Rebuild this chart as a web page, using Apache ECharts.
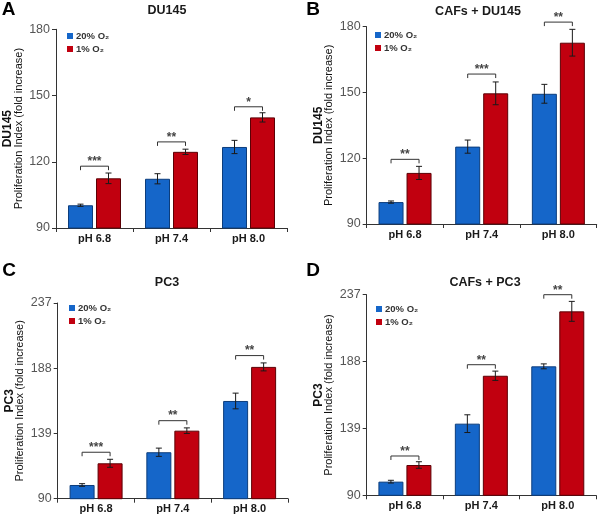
<!DOCTYPE html>
<html>
<head>
<meta charset="utf-8">
<script src="https://cdn.jsdelivr.net/npm/echarts@6/dist/echarts.min.js"></script>
<style>html,body{margin:0;padding:0;background:#fff}#c{width:600px;height:518px}</style>
</head>
<body>
<div id="c"></div>
<script>
// ---------- data ----------
const categories = ['pH 6.8', 'pH 7.4', 'pH 8.0'];
const legendNames = ['20% O\u2082', '1% O\u2082'];
const duTicks = [90, 120, 150, 180];
const pcTicks = [90, 139, 188, 237];

// A: DU145
const aBlue = [100.3, 112.3, 126.7];
const aBlueErr = [0.5, 2.3, 3.0];
const aRed = [112.5, 124.5, 140.1];
const aRedErr = [2.4, 1.2, 2.1];
const aBracket = [118, 129, 144.9];
const aStars = ['***', '**', '*'];

// B: CAFs + DU145
const bBlue = [100.0, 125.3, 149.4];
const bBlueErr = [0.5, 3.0, 4.3];
const bRed = [113.3, 149.6, 172.7];
const bRedErr = [3.0, 5.2, 6.1];
const bBracket = [119.5, 158.4, 182.1];
const bStars = ['**', '***', '**'];

// C: PC3
const cBlue = [100.3, 124.9, 163.4];
const cBlueErr = [1.0, 3.1, 5.9];
const cRed = [116.6, 141.1, 189.0];
const cRedErr = [3.0, 2.1, 3.0];
const cBracket = [124.9, 148.6, 197.5];
const cStars = ['***', '**', '**'];

// D: CAFs + PC3
const dBlue = [100.0, 142.5, 184.5];
const dBlueErr = [1.0, 6.5, 1.8];
const dRed = [112.2, 177.6, 224.8];
const dRedErr = [2.4, 3.4, 7.3];
const dBracket = [118.8, 185.7, 237];
const dStars = ['**', '**', '**'];

// ---------- layout / style ----------
const FONT = '"Liberation Sans", Arial, sans-serif';
const BLUE = '#1566c9', BLUE_B = '#0c3d7c';
const RED = '#c1000f', RED_B = '#5c0005';
const BAR_W = 25, OFF = 14;

const panels = [
  {grid: {left: 56, top: 29.3, width: 231, height: 198.7}, ticks: duTicks, yName: 'DU145',
   blue: aBlue, blueErr: aBlueErr, red: aRed, redErr: aRedErr, bracket: aBracket, stars: aStars,
   title: 'DU145', tx: 167, ty: 11, letter: 'A', lx: 8.5, ly: 10, legL: 67, legT: 31},
  {grid: {left: 366.7, top: 26.7, width: 230, height: 197.3}, ticks: duTicks, yName: 'DU145',
   blue: bBlue, blueErr: bBlueErr, red: bRed, redErr: bRedErr, bracket: bBracket, stars: bStars,
   title: 'CAFs + DU145', tx: 478, ty: 12, letter: 'B', lx: 313, ly: 10, legL: 375, legT: 30},
  {grid: {left: 57.7, top: 303, width: 230.3, height: 195.7}, ticks: pcTicks, yName: 'PC3',
   blue: cBlue, blueErr: cBlueErr, red: cRed, redErr: cRedErr, bracket: cBracket, stars: cStars,
   title: 'PC3', tx: 167, ty: 283, letter: 'C', lx: 9, ly: 271, legL: 69, legT: 303},
  {grid: {left: 366.7, top: 294.7, width: 229.3, height: 200.6}, ticks: pcTicks, yName: 'PC3',
   blue: dBlue, blueErr: dBlueErr, red: dRed, redErr: dRedErr, bracket: dBracket, stars: dStars,
   title: 'CAFs + PC3', tx: 485, ty: 283, letter: 'D', lx: 313, ly: 271, legL: 376, legT: 304}
];

const grids = [], xAxes = [], yAxes = [], series = [], legends = [], graphics = [];

function errSeries(i, vals, errs, off) {
  return {
    type: 'custom', xAxisIndex: i, yAxisIndex: i, clip: false, z: 5,
    encode: {x: 0, y: 1},
    data: vals.map((v, k) => [k, v, errs[k]]),
    renderItem: function (params, api) {
      const k = api.value(0), v = api.value(1), e = api.value(2);
      const t = api.coord([k, v + e]), b = api.coord([k, v - e]);
      const x = t[0] + off;
      const st = {stroke: '#1a1a1a', lineWidth: 1};
      return {type: 'group', children: [
        {type: 'line', shape: {x1: x, y1: t[1], x2: x, y2: b[1]}, style: st},
        {type: 'line', shape: {x1: x - 3, y1: t[1], x2: x + 3, y2: t[1]}, style: st},
        {type: 'line', shape: {x1: x - 3, y1: b[1], x2: x + 3, y2: b[1]}, style: st}
      ]};
    }
  };
}

function bracketSeries(i, vals, stars) {
  return {
    type: 'custom', xAxisIndex: i, yAxisIndex: i, clip: false, z: 6,
    encode: {x: 0, y: 1},
    data: vals.map((v, k) => [k, v]),
    renderItem: function (params, api) {
      const k = api.value(0), v = api.value(1);
      const c = api.coord([k, v]);
      const x1 = c[0] - OFF, x2 = c[0] + OFF, y = c[1];
      return {type: 'group', children: [
        {type: 'polyline', shape: {points: [[x1, y + 4], [x1, y], [x2, y], [x2, y + 4]]},
         style: {stroke: '#333', lineWidth: 1, fill: null}},
        {type: 'text', x: c[0], y: y - 4.5,
         style: {text: stars[params.dataIndex], fill: '#444', font: 'bold 12px ' + FONT,
                 textAlign: 'center', textVerticalAlign: 'middle'}}
      ]};
    }
  };
}

panels.forEach((p, i) => {
  grids.push(Object.assign({containLabel: false}, p.grid));
  xAxes.push({
    type: 'category', gridIndex: i, data: categories,
    axisLine: {lineStyle: {color: '#333', width: 1}},
    axisTick: {show: true, length: 4, lineStyle: {color: '#333'}},
    axisLabel: {fontFamily: FONT, fontWeight: 'bold', fontSize: 11, color: '#1a1a1a', margin: 5}
  });
  yAxes.push({
    type: 'value', gridIndex: i, min: p.ticks[0], max: p.ticks[p.ticks.length - 1],
    splitLine: {show: false},
    axisLine: {show: true, lineStyle: {color: '#333', width: 1}},
    axisTick: {show: true, length: 4, lineStyle: {color: '#333'}, customValues: p.ticks},
    axisLabel: {fontFamily: FONT, fontSize: 12.5, color: '#555', margin: 6, customValues: p.ticks},
    name: '{b|' + p.yName + '}\n{n|Proliferation Index (fold increase)}',
    nameLocation: 'middle', nameRotate: 90, nameGap: 32,
    nameTextStyle: {
      rich: {
        b: {fontFamily: FONT, fontWeight: 'bold', fontSize: 12, color: '#111', lineHeight: 11, align: 'center'},
        n: {fontFamily: FONT, fontSize: 11, color: '#111', lineHeight: 11, align: 'center'}
      }
    }
  });
  series.push({
    name: legendNames[0], type: 'bar', xAxisIndex: i, yAxisIndex: i, data: p.blue,
    barWidth: BAR_W, barGap: '12%',
    itemStyle: {color: BLUE, borderColor: BLUE_B, borderWidth: 1}
  });
  series.push({
    name: legendNames[1], type: 'bar', xAxisIndex: i, yAxisIndex: i, data: p.red,
    barWidth: BAR_W, barGap: '12%',
    itemStyle: {color: RED, borderColor: RED_B, borderWidth: 1}
  });
  series.push(errSeries(i, p.blue, p.blueErr, -OFF));
  series.push(errSeries(i, p.red, p.redErr, OFF));
  series.push(bracketSeries(i, p.bracket, p.stars));
  legends.push({
    data: legendNames, left: p.legL, top: p.legT, orient: 'vertical', padding: 0,
    icon: 'rect', itemWidth: 6, itemHeight: 6, itemGap: 3, selectedMode: false,
    itemStyle: {borderWidth: 0},
    textStyle: {fontFamily: FONT, fontWeight: 'bold', fontSize: 9.5, color: '#333', padding: [0, 0, 0, -2]}
  });
  graphics.push({type: 'text', x: p.tx, y: p.ty,
    style: {text: p.title, font: 'bold 12.5px ' + FONT, fill: '#1a1a1a', textAlign: 'center', textVerticalAlign: 'middle'}});
  graphics.push({type: 'text', x: p.lx, y: p.ly,
    style: {text: p.letter, font: 'bold 19px ' + FONT, fill: '#000', textAlign: 'center', textVerticalAlign: 'middle'}});
});

const chart = echarts.init(document.getElementById('c'), null, {renderer: 'canvas'});
chart.setOption({
  animation: false,
  backgroundColor: '#fff',
  grid: grids, xAxis: xAxes, yAxis: yAxes, series: series,
  legend: legends, graphic: graphics
});
</script>
</body>
</html>
